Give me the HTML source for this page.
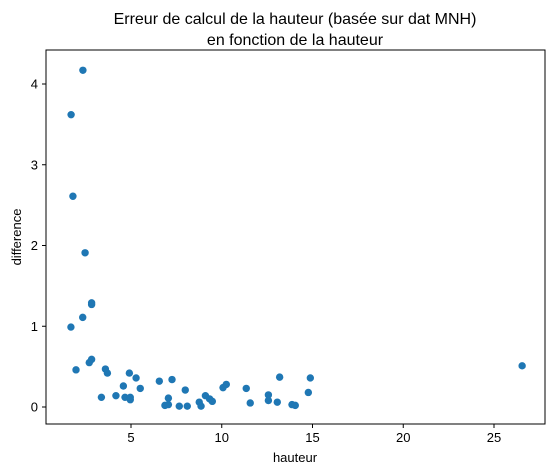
<!DOCTYPE html>
<html><head><meta charset="utf-8"><style>
body{margin:0;background:#fff;}
svg{display:block;font-family:"Liberation Sans","DejaVu Sans",sans-serif;}
</style></head><body>
<svg id="chart" width="554" height="476" viewBox="0 0 554 476">
<text x="295" y="24" text-anchor="middle" font-size="16">Erreur de calcul de la hauteur (basée sur dat MNH)</text>
<text x="295" y="45" text-anchor="middle" font-size="16">en fonction de la hauteur</text>
<g id="plot"></g>
<rect x="46" y="50" width="499" height="374" fill="none" stroke="#000" stroke-width="1"/>
<text x="295" y="462" text-anchor="middle" font-size="13">hauteur</text>
<text x="21" y="237" text-anchor="middle" font-size="13" transform="rotate(-90 21 237)">difference</text>
</svg>
<script>
const xs = [2.35,1.70,1.80,2.47,26.55,1.69,2.34,2.83,2.83,1.97,2.70,2.83,3.37,3.59,3.70,4.17,4.58,4.67,4.96,4.96,4.91,5.28,5.51,6.56,7.26,7.06,6.87,7.06,7.66,8.10,7.99,8.76,8.86,9.10,9.33,9.48,10.07,10.25,11.35,11.57,12.57,12.57,13.06,13.19,13.87,14.05,14.77,14.88];
const ys = [4.17,3.62,2.61,1.91,0.51,0.99,1.11,1.29,1.27,0.46,0.55,0.59,0.12,0.47,0.42,0.14,0.26,0.12,0.12,0.09,0.42,0.36,0.23,0.32,0.34,0.11,0.02,0.03,0.01,0.01,0.21,0.06,0.01,0.14,0.10,0.07,0.24,0.28,0.23,0.05,0.15,0.08,0.06,0.37,0.03,0.02,0.18,0.36];
const xTicks = [5,10,15,20,25];
const yTicks = [0,1,2,3,4];
const NS="http://www.w3.org/2000/svg";
const sx = v => 40.25 + v*18.15;
const sy = v => 407 - v*80.75;
const g = document.getElementById('plot');
function mk(t,a){const e=document.createElementNS(NS,t);for(const k in a)e.setAttribute(k,a[k]);return e;}
xTicks.forEach(t=>{
  const l=mk('line',{x1:sx(t),x2:sx(t),y1:424,y2:428,stroke:'#000'});
  
  
  g.appendChild(l);
  const tx=mk('text',{x:sx(t),y:442,'text-anchor':'middle','font-size':'13'});
  tx.textContent=t;
  
  
  g.appendChild(tx);
});
yTicks.forEach(t=>{
  const l=mk('line',{x1:42,x2:46,y1:sy(t),y2:sy(t),stroke:'#000'});
  
  
  g.appendChild(l);
  const tx=mk('text',{x:38,y:sy(t)+4.5,'text-anchor':'end','font-size':'13'});
  tx.textContent=t;
  
  
  g.appendChild(tx);
});
xs.forEach((x,i)=>{
  const c=mk('circle',{cx:sx(x),cy:sy(ys[i]),r:3.7,fill:'#1f77b4'});
  
  
  g.appendChild(c);
});
</script>
</body></html>
